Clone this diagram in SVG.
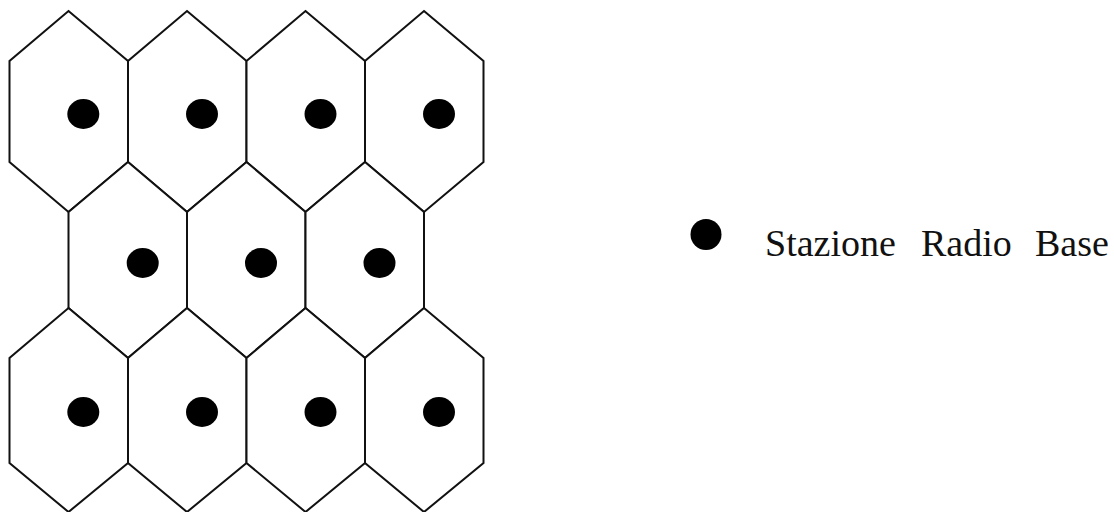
<svg xmlns="http://www.w3.org/2000/svg" width="1114" height="512" viewBox="0 0 1114 512">
  <style>
    .cell { fill: #ffffff; stroke: #111111; stroke-width: 2; stroke-linejoin: miter; }
    .bs { fill: #000000; }
    .lbl { font-family: "Liberation Serif", "Times New Roman", serif; font-size: 38px; fill: #111111; }
  </style>
  <rect x="0" y="0" width="1114" height="512" fill="#ffffff"/>
  <g id="row1">
    <g id="cell-1-1"><polygon class="cell" points="68.5,11 128,61 128,162 68.5,212 9.5,162 9.5,61"/><ellipse class="bs" cx="83.3" cy="114" rx="16" ry="15"/></g>
    <g id="cell-1-2"><polygon class="cell" points="187,11 246.5,61 246.5,162 187,212 128,162 128,61"/><ellipse class="bs" cx="202" cy="114" rx="16" ry="15"/></g>
    <g id="cell-1-3"><polygon class="cell" points="305.5,11 365,61 365,162 305.5,212 246.5,162 246.5,61"/><ellipse class="bs" cx="320.5" cy="114" rx="16" ry="15"/></g>
    <g id="cell-1-4"><polygon class="cell" points="424,11 483.5,61 483.5,162 424,212 365,162 365,61"/><ellipse class="bs" cx="439" cy="114" rx="16" ry="15"/></g>
  </g>
  <g id="row2">
    <g id="cell-2-1"><polygon class="cell" points="128,162 187,212 187,308 128,358 68.5,308 68.5,212"/><ellipse class="bs" cx="142.7" cy="263" rx="16" ry="15"/></g>
    <g id="cell-2-2"><polygon class="cell" points="246.5,162 305.5,212 305.5,308 246.5,358 187,308 187,212"/><ellipse class="bs" cx="261" cy="263" rx="16" ry="15"/></g>
    <g id="cell-2-3"><polygon class="cell" points="365,162 424,212 424,308 365,358 305.5,308 305.5,212"/><ellipse class="bs" cx="379.5" cy="263" rx="16" ry="15"/></g>
  </g>
  <g id="row3">
    <g id="cell-3-1"><polygon class="cell" points="68.5,308 128,358 128,463 68.5,512 9.5,463 9.5,358"/><ellipse class="bs" cx="83.3" cy="412" rx="16" ry="15"/></g>
    <g id="cell-3-2"><polygon class="cell" points="187,308 246.5,358 246.5,463 187,512 128,463 128,358"/><ellipse class="bs" cx="202" cy="412" rx="16" ry="15"/></g>
    <g id="cell-3-3"><polygon class="cell" points="305.5,308 365,358 365,463 305.5,512 246.5,463 246.5,358"/><ellipse class="bs" cx="320.5" cy="412" rx="16" ry="15"/></g>
    <g id="cell-3-4"><polygon class="cell" points="424,308 483.5,358 483.5,463 424,512 365,463 365,358"/><ellipse class="bs" cx="439" cy="412" rx="16" ry="15"/></g>
  </g>
  <g id="connectors"></g>
  <g id="legend">
    <ellipse class="bs" cx="706" cy="234.5" rx="15.5" ry="15.5"/>
    <text class="lbl" x="765" y="256">Stazione</text>
    <text class="lbl" x="921" y="256">Radio</text>
    <text class="lbl" x="1035" y="256">Base</text>
  </g>
</svg>
